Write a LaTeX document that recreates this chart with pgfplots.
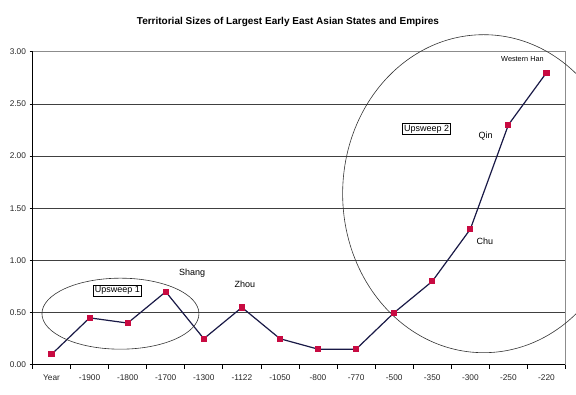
\documentclass[border=0pt]{standalone}
\usepackage{pgfplots}
\pgfplotsset{compat=1.18}
\usepackage{fontspec}
\setmainfont{Liberation Sans}
\definecolor{navyline}{RGB}{25,25,70}
\definecolor{mk}{RGB}{200,10,65}
\begin{document}
\begin{tikzpicture}
\path[use as bounding box] (0pt,0pt) rectangle (576pt,394pt);
\clip (0pt,0pt) rectangle (576pt,394pt);
\begin{axis}[
  at={(32.5pt,29.2pt)}, anchor=south west,
  scale only axis, width=533pt, height=313pt,
  xmin=-0.5, xmax=13.5, ymin=0, ymax=3,
  axis x line*=bottom, axis y line*=left,
  axis line style={black, line width=0.8pt},
  xtick={0,...,13},
  xticklabels={Year,-1900,-1800,-1700,-1300,-1122,-1050,-800,-770,-500,-350,-300,-250,-220},
  minor xtick={-0.5,0.5,...,13.5},
  x tick style={draw=none},
  minor x tick style={draw=black, line width=0.8pt},
  minor tick length=4pt,
  major tick length=3pt,
  tick align=outside,
  ytick={0,0.5,...,3},
  y tick style={black, line width=0.8pt},
  ymajorgrids,
  grid style={black!75, line width=0.8pt},
  yticklabel style={/pgf/number format/.cd, fixed, fixed zerofill, precision=2, assume math mode=true},
  tick label style={font=\fontsize{8.3}{9}\selectfont, text=black!85},
  xticklabel style={yshift=-3pt},
  clip=false,
]
\draw[black!45, line width=0.8pt] (rel axis cs:0,1) -- (rel axis cs:1,1) -- (rel axis cs:1,0);
\addplot[navyline, line width=1.2pt, mark=square*, mark size=2.6pt, mark options={fill=mk, draw=mk, line width=0pt}]
coordinates {
(0,0.10) (1,0.45) (2,0.40) (3,0.70) (4,0.25) (5,0.55) (6,0.25)
(7,0.15) (8,0.15) (9,0.50) (10,0.80) (11,1.30) (12,2.30) (13,2.80)
};
\draw[black!80, line width=0.6pt] (axis cs:1.81,0.49) ellipse [x radius=78.5pt, y radius=35.5pt];
\draw[black!80, line width=0.6pt] (axis cs:11.35,1.64) ellipse [x radius=141pt, y radius=159pt];
\node[font=\fontsize{9}{10}\selectfont] at (axis cs:3.69,0.88) {Shang};
\node[font=\fontsize{9}{10}\selectfont] at (axis cs:5.08,0.77) {Zhou};
\node[font=\fontsize{9}{10}\selectfont] at (axis cs:11.38,1.18) {Chu};
\node[font=\fontsize{9}{10}\selectfont] at (axis cs:11.40,2.19) {Qin};
\node[font=\fontsize{7.3}{8}\selectfont] at (axis cs:12.37,2.93) {Western Han};
\node[draw=black, line width=0.6pt, fill=white, inner sep=1.5pt, font=\fontsize{9}{10}\selectfont] at (axis cs:1.73,0.71) {Upsweep 1};
\node[draw=black, line width=0.6pt, fill=white, inner sep=1.5pt, font=\fontsize{9}{10}\selectfont] at (axis cs:9.85,2.26) {Upsweep 2};
\end{axis}
\node[font=\bfseries\fontsize{10}{12}\selectfont] at (288pt,372pt) {Territorial Sizes of Largest Early East Asian States and Empires};
\end{tikzpicture}
\end{document}
